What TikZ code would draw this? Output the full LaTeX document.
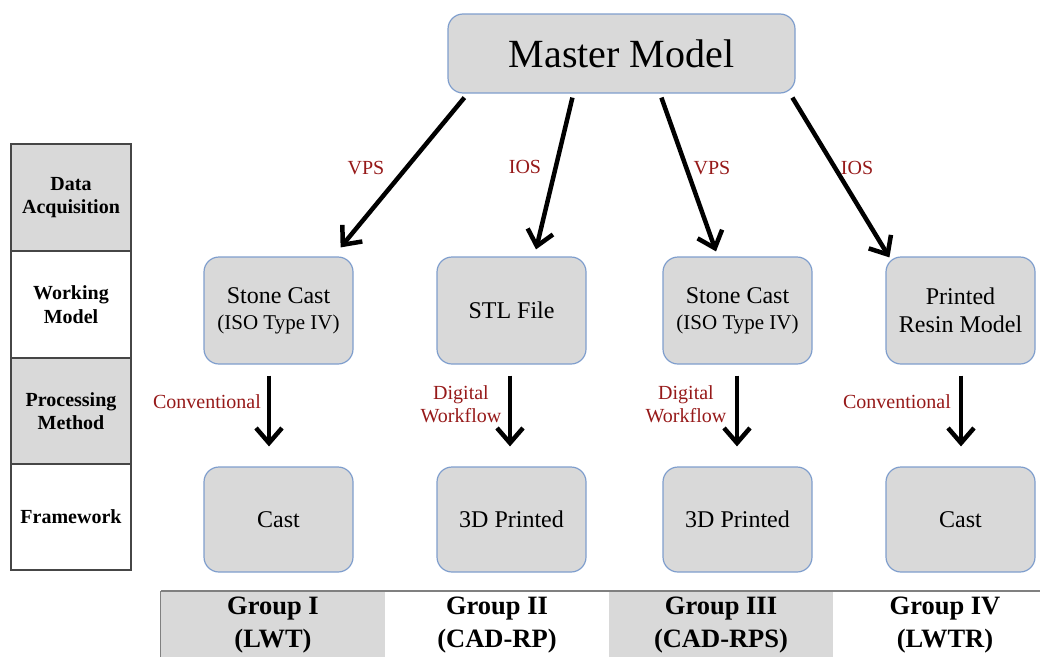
\documentclass[tikz,border=0pt]{standalone}
\usepackage{fontspec}
\setmainfont{Liberation Serif}
\usetikzlibrary{arrows.meta,calc}
\definecolor{boxfill}{RGB}{217,217,217}
\definecolor{boxline}{RGB}{127,158,205}
\definecolor{lblred}{RGB}{150,25,25}
\definecolor{tabgray}{RGB}{217,217,217}
\definecolor{tabline}{RGB}{70,70,70}
\begin{document}
\begin{tikzpicture}[x=1pt,y=-1pt,
  rbox/.style={draw=boxline, line width=1.2pt, fill=boxfill, rounded corners=15pt,
    minimum width=149pt, minimum height=107pt, inner sep=0pt, align=center,
    font=\fontsize{24}{28}\selectfont},
  arr/.style={line width=4.5pt, -{Straight Barb[length=15pt,width=26pt]}},
  lbl/.style={text=lblred, font=\fontsize{20}{23}\selectfont, align=center, inner sep=0pt},
  tcell/.style={draw=tabline, line width=1.2pt, minimum width=120pt, inner sep=0pt,
    align=center, font=\bfseries\fontsize{20}{23.5}\selectfont},
  gcell/.style={minimum width=224pt, minimum height=68pt, inner sep=0pt, align=center,
    font=\bfseries\fontsize{26.5}{33}\selectfont}
]
\useasboundingbox (0,0) rectangle (1040,656);

% left table
\node[tcell, fill=tabgray, minimum height=107pt] (da) at (71,197.5) {Data\\Acquisition};
\node[tcell, fill=white, minimum height=107pt] (wm) at (71,304.5) {Working\\Model};
\node[tcell, fill=tabgray, minimum height=106pt] (pm) at (71,411) {Processing\\Method};
\node[tcell, fill=white, minimum height=106pt] (fw) at (71,517) {Framework};

% master model
\node[rbox, minimum width=347pt, minimum height=79pt, font=\fontsize{40}{44}\selectfont] (mm) at (621.5,53.5) {Master Model};

% working models
\node[rbox] (w1) at (278.5,310.5) {Stone Cast\\[-2pt]{\fontsize{21}{24}\selectfont (ISO Type IV)}};
\node[rbox] (w2) at (511.5,310.5) {STL File};
\node[rbox] (w3) at (737.5,310.5) {Stone Cast\\[-2pt]{\fontsize{21}{24}\selectfont (ISO Type IV)}};
\node[rbox] (w4) at (960.5,310.5) {Printed\\Resin Model};

% frameworks
\node[rbox, minimum height=105pt] (f1) at (278.5,519.5) {Cast};
\node[rbox, minimum height=105pt] (f2) at (511.5,519.5) {3D Printed};
\node[rbox, minimum height=105pt] (f3) at (737.5,519.5) {3D Printed};
\node[rbox, minimum height=105pt] (f4) at (960.5,519.5) {Cast};

% arrow end points
\coordinate (s1) at ($(mm.south west)+(17,4)$);
\coordinate (s2) at ($(mm.south west)+(125,4)$);
\coordinate (s3) at ($(mm.south west)+(214,4)$);
\coordinate (s4) at ($(mm.south west)+(345,4)$);
\coordinate (t1) at ($(w1.north east)+(-13,-9)$);
\coordinate (t2) at ($(w2.north)+(24.5,-7)$);
\coordinate (t3) at ($(w3.north)+(-21.5,-5)$);
\coordinate (t4) at ($(w4.north west)+(4,1)$);

\draw[arr] (s1) -- (t1);
\draw[arr] (s2) -- (t2);
\draw[arr] (s3) -- (t3);
\draw[arr] (s4) -- (t4);

\node[lbl] (l1) at (366,168) {VPS};
\node[lbl] (l2) at (525,167) {IOS};
\node[lbl] (l3) at (712,168) {VPS};
\node[lbl] (l4) at (857,168) {IOS};

% vertical arrows
\coordinate (v1a) at ($(w1.south)+(-9.5,11)$);
\coordinate (v1b) at ($(f1.north)+(-9.5,-20)$);
\coordinate (v2a) at ($(w2.south)+(-1.5,11)$);
\coordinate (v2b) at ($(f2.north)+(-1.5,-20)$);
\coordinate (v3a) at ($(w3.south)+(-0.5,11)$);
\coordinate (v3b) at ($(f3.north)+(-0.5,-20)$);
\coordinate (v4a) at ($(w4.south)+(0.5,11)$);
\coordinate (v4b) at ($(f4.north)+(0.5,-20)$);
\draw[arr] (v1a) -- (v1b);
\draw[arr] (v2a) -- (v2b);
\draw[arr] (v3a) -- (v3b);
\draw[arr] (v4a) -- (v4b);

\node[lbl] (c1) at (207,402) {Conventional};
\node[lbl] (c2) at (461,404) {Digital\\Workflow};
\node[lbl] (c3) at (686,404) {Digital\\Workflow};
\node[lbl] (c4) at (897,402) {Conventional};

% group bar
\node[gcell, fill=tabgray] (g1) at (273,625) {Group I\\(LWT)};
\node[gcell] (g2) at (497,625) {Group II\\(CAD-RP)};
\node[gcell, fill=tabgray] (g3) at (721,625) {Group III\\(CAD-RPS)};
\node[gcell] (g4) at (945,625) {Group IV\\(LWTR)};
\draw[line width=1.2pt, draw=gray] (g1.north west) -- (g1.south west);
\draw[line width=2pt, draw=gray] (g1.north west) -- ($(g4.north east)+(20,0)$);
\end{tikzpicture}
\end{document}
